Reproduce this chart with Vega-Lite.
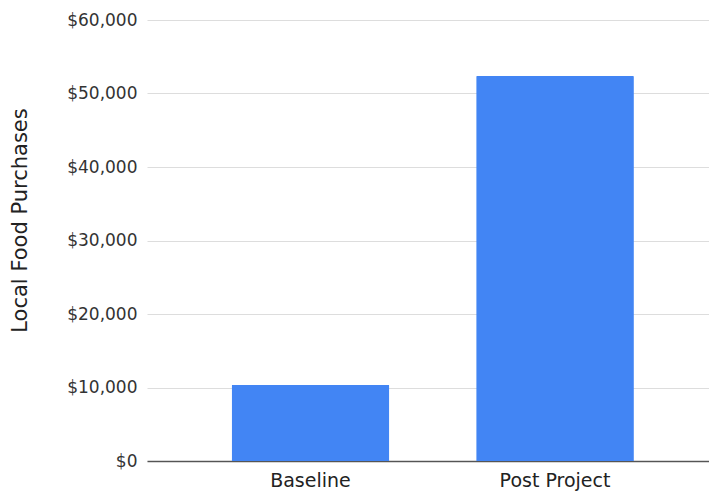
{
  "$schema": "https://vega.github.io/schema/vega-lite/v6.json",
  "width": 562,
  "height": 441,
  "autosize": {"type": "none"},
  "padding": {"left": 147, "top": 20, "right": 0, "bottom": 32},
  "background": "white",
  "config": {
    "view": {"stroke": null},
    "font": "DejaVu Sans"
  },
  "data": {
    "values": [
      {"stage": "Baseline", "purchases": 10340},
      {"stage": "Post Project", "purchases": 52380}
    ]
  },
  "mark": {"type": "bar", "color": "#4285F4", "cornerRadiusTopLeft": 1, "cornerRadiusTopRight": 1},
  "encoding": {
    "x": {
      "field": "stage",
      "type": "nominal",
      "sort": null,
      "scale": {"range": [0, 571.5], "paddingOuter": 0.346, "paddingInner": 0.355},
      "axis": {
        "title": null,
        "labelAngle": 0,
        "labelFontSize": 19,
        "labelColor": "#222222",
        "labelPadding": 10,
        "ticks": false,
        "domainColor": "#333333",
        "domainWidth": 1.5,
        "domainOpacity": 0.8
      }
    },
    "y": {
      "field": "purchases",
      "type": "quantitative",
      "scale": {"domain": [0, 60000]},
      "axis": {
        "title": "Local Food Purchases",
        "titleFontSize": 21,
        "titleFontWeight": "normal",
        "titleColor": "#222222",
        "titleX": -127,
        "titleY": 200,
        "titleBaseline": "middle",
        "titleAlign": "center",
        "values": [0, 10000, 20000, 30000, 40000, 50000, 60000],
        "format": "$,.0f",
        "labelFontSize": 17,
        "labelColor": "#333333",
        "labelPadding": 10,
        "domain": false,
        "ticks": false,
        "gridColor": "#dddddd",
        "gridWidth": 1
      }
    }
  }
}
